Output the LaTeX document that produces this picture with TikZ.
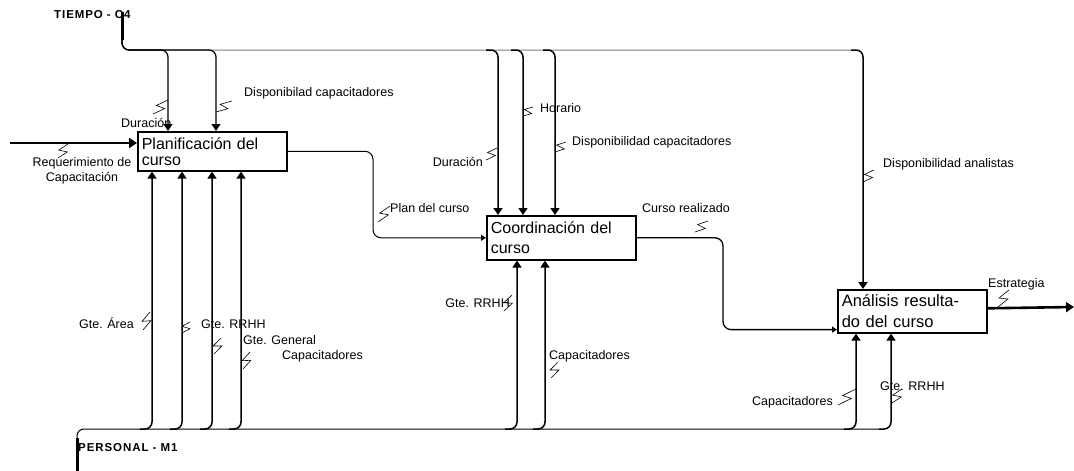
\documentclass[tikz,border=0pt]{standalone}
\usepackage{fontspec}
\setmainfont{Liberation Sans}
\newfontfamily\mechfont[LetterSpace=8]{Liberation Sans}
\usetikzlibrary{arrows.meta,calc}
\tikzstyle{proc}=[draw, line width=1.6pt, text width=141pt, align=left, inner xsep=4pt, inner ysep=0pt, anchor=north west]
\tikzstyle{lbl}=[inner sep=0pt, font=\fontsize{12.5}{15}\selectfont]
\tikzstyle{mech}=[inner sep=0pt, anchor=base west, font=\mechfont\bfseries\fontsize{11.5}{13}\selectfont]
\tikzstyle{ctl}=[line width=1.5pt, rounded corners=7pt, -{Triangle[width=9pt,length=7pt]}]
\tikzstyle{flow}=[line width=1pt, rounded corners=8pt, -{Triangle[width=6pt,length=5pt]}]
\tikzstyle{ext}=[line width=2.6pt, -{Triangle[width=10pt,length=8pt]}]
\newcommand{\squig}[2]{\draw[line width=.6pt] #1 -- ($#1!.6!#2!4pt!-90:#2$) -- ($#1!.4!#2!4pt!90:#2$) -- #2;}

\begin{document}
\begin{tikzpicture}[x=1pt, y=-1pt]
\useasboundingbox (0,0) rectangle (1074,471);
\node[proc, minimum width=149pt, minimum height=39pt, font=\fontsize{16}{16}\selectfont] (plan) at (137,131) {Planificación del\\curso};
\node[proc, minimum width=149pt, minimum height=44pt, font=\fontsize{16}{20}\selectfont] (coord) at (486,215) {Coordinación del\\curso};
\node[proc, minimum width=148pt, minimum height=43pt, font=\fontsize{16.5}{21}\selectfont] (anal) at (837,289) {Análisis resulta-\\do del curso};
\coordinate (tiempo) at (122,40);
\coordinate (personal) at (77,438);
\coordinate (req) at (10,143);
\coordinate (est) at (1074,307);
\coordinate (j1) at (373,200);
\coordinate (j2) at (723,280);
\coordinate (tp1) at (168,50);
\coordinate (tp2) at (216,50);
\coordinate (tc1) at (498,50);
\coordinate (tc2) at (523,50);
\coordinate (tc3) at (555,50);
\coordinate (ta) at (863,50);
\coordinate (bp1) at (152,429);
\coordinate (bp2) at (182,429);
\coordinate (bp3) at (212,429);
\coordinate (bp4) at (241,429);
\coordinate (bc1) at (517,429);
\coordinate (bc2) at (545,429);
\coordinate (ba1) at (856,429);
\coordinate (ba2) at (891,429);
\node[mech] (lTiempo) at (54,19) {TIEMPO - C4};
\node[mech] (lPersonal) at (78,451) {PERSONAL - M1};
\draw[line width=3pt] (122,12) -- (tiempo);
\draw[gray, line width=1pt, rounded corners=7pt] (tiempo) |- ($(ta)+(-12,0)$);
\draw[line width=3pt] (77,471) -- (personal);
\draw[line width=1pt, rounded corners=7pt] (personal) |- ($(ba2)+(-12,0)$);
\draw[ctl, line width=1.2pt] (tiempo) |- (tp1) -- (tp1 |- plan.north);
\draw[ctl, line width=1.2pt] (tiempo) |- (tp2) -- (tp2 |- plan.north);
\foreach \t in {tc1,tc2,tc3} {\draw[ctl] ($(\t)+(-12,0)$) -- (\t) -- (\t |- coord.north);}
\draw[ctl] ($(ta)+(-12,0)$) -- (ta) -- (ta |- anal.north);
\foreach \b in {bp1,bp2,bp3,bp4} {\draw[ctl] ($(\b)+(-12,0)$) -- (\b) -- (\b |- plan.south);}
\foreach \b in {bc1,bc2} {\draw[ctl] ($(\b)+(-12,0)$) -- (\b) -- (\b |- coord.south);}
\foreach \b in {ba1,ba2} {\draw[ctl] ($(\b)+(-12,0)$) -- (\b) -- (\b |- anal.south);}
\draw[ext] (req) -- (req -| plan.west);
\draw[flow] (plan.east) -| (j1) |- (coord.west);
\draw[flow, line width=1.3pt] (coord.east) -| (j2) |- ($(anal.south west)+(0,-4)$);
\draw[ext] ($(anal.east)+(0,-3)$) -- (est);
\node[lbl, anchor=base west] (lDur1) at (121,127) {Duración};
\node[lbl, anchor=base west] (lDisp1) at (244,96) {Disponibilad capacitadores};
\node[lbl, align=center] (lReq) at (82,171) {Requerimiento de\\Capacitación};
\node[lbl, anchor=base east] (lDur2) at (483,166) {Duración};
\node[lbl, anchor=base west] (lHor) at (540,112) {Horario};
\node[lbl, anchor=base west] (lDisp2) at (572,145) {Disponibilidad capacitadores};
\node[lbl, anchor=base west] (lDispA) at (883,167) {Disponibilidad analistas};
\node[lbl, anchor=base west] (lPlan) at (390,212) {Plan del curso};
\node[lbl, anchor=base west] (lCurso) at (642,212) {Curso realizado};
\node[lbl, anchor=base west] (lEst) at (988,287) {Estrategia};
\node[lbl, anchor=base east] (lArea) at (134,328) {Gte. Área};
\node[lbl, anchor=base west] (lRrhh1) at (201,328) {Gte. RRHH};
\node[lbl, anchor=base west] (lGral) at (243,344) {Gte. General};
\node[lbl, anchor=base west] (lCap1) at (282,359) {Capacitadores};
\node[lbl, anchor=base east] (lRrhh2) at (510,307) {Gte. RRHH};
\node[lbl, anchor=base west] (lCap2) at (549,359) {Capacitadores};
\node[lbl, anchor=base east] (lCap3) at (833,405) {Capacitadores};
\node[lbl, anchor=base west] (lRrhh3) at (880,390) {Gte. RRHH};
\squig{(168,100)}{(153,114)}
\squig{(216,112)}{(232,101)}
\squig{(68,144)}{(58,158)}
\squig{(497,148)}{(486,160)}
\squig{(523,116)}{(533,107)}
\squig{(555,152)}{(566,142)}
\squig{(863,182)}{(874,170)}
\squig{(378,222)}{(390,206)}
\squig{(695,232)}{(708,221)}
\squig{(998,307)}{(1009,290)}
\squig{(143,330)}{(150,312)}
\squig{(182,333)}{(190,322)}
\squig{(214,354)}{(221,338)}
\squig{(243,369)}{(250,352)}
\squig{(504,311)}{(512,295)}
\squig{(551,378)}{(558,362)}
\squig{(838,405)}{(856,389)}
\squig{(892,403)}{(902,389)}
\end{tikzpicture}
\end{document}
